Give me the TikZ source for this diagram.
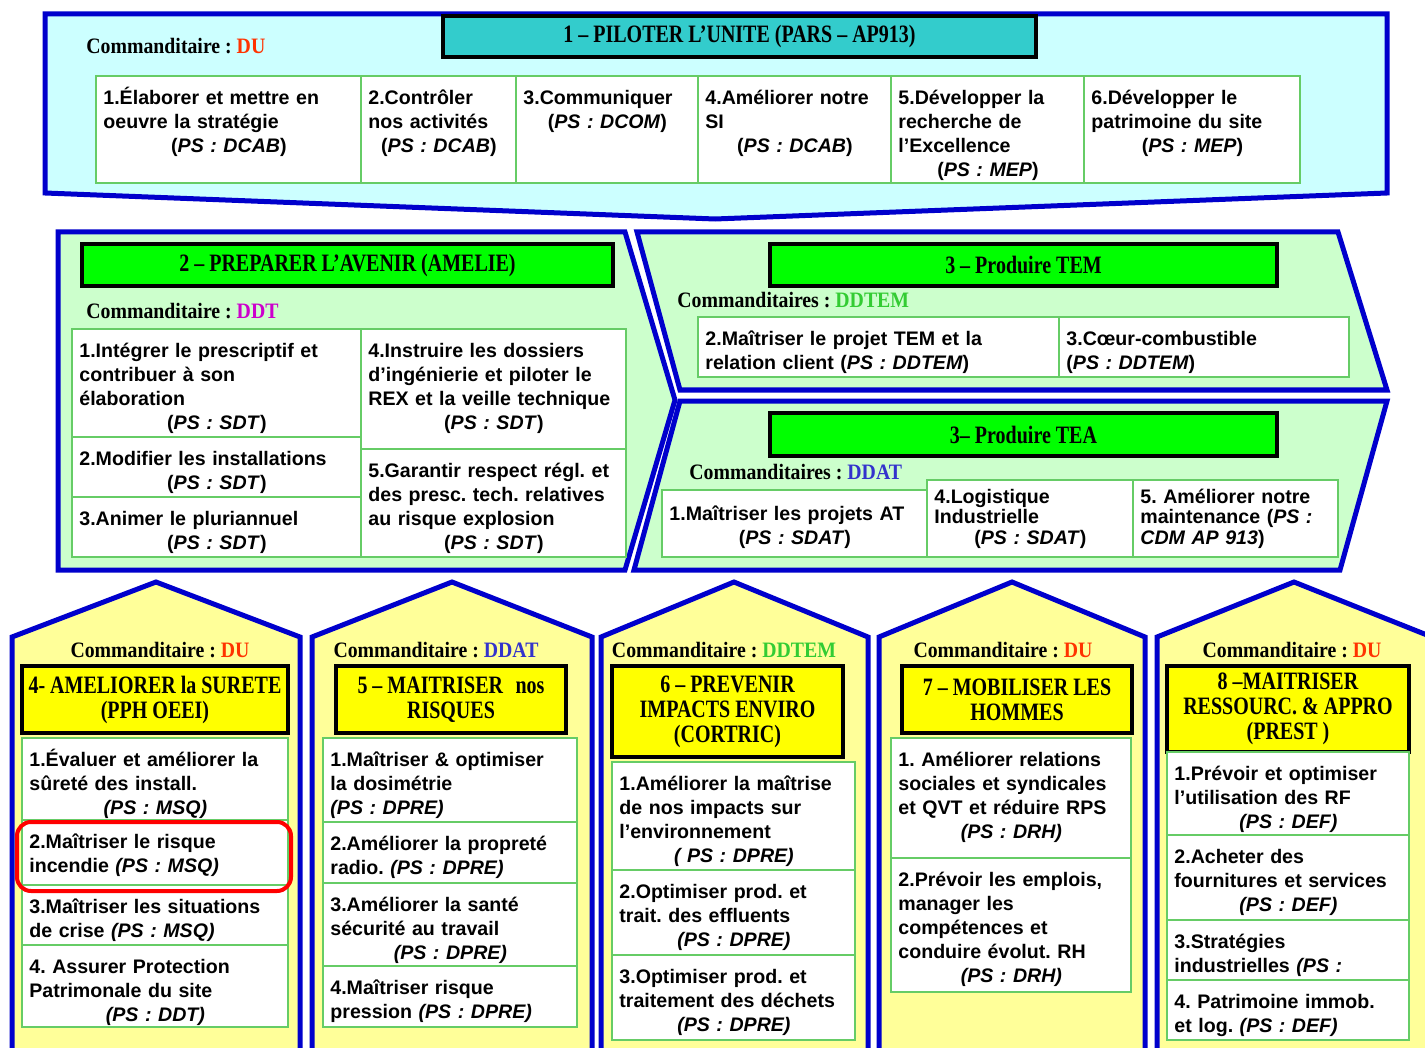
\documentclass[tikz,border=0pt]{standalone}
\usepackage{fontspec}
\setmainfont{Liberation Sans}
\newfontfamily\condserif{Liberation Serif}[FakeStretch=0.8]
\newfontfamily\sponserif{Liberation Serif}[FakeStretch=0.9]
\frenchspacing
\definecolor{bordblue}{RGB}{0,0,204}
\definecolor{skycyan}{RGB}{204,255,255}
\definecolor{mintgreen}{RGB}{204,255,204}
\definecolor{paleyellow}{RGB}{255,255,153}
\definecolor{cellgreen}{RGB}{102,204,102}
\definecolor{titlecyan}{RGB}{51,204,204}
\definecolor{titlegreen}{RGB}{0,255,0}
\definecolor{titleyellow}{RGB}{255,255,0}
\definecolor{duRed}{RGB}{255,51,0}
\definecolor{ddtMag}{RGB}{204,0,204}
\definecolor{ddtemGreen}{RGB}{51,204,51}
\definecolor{ddatBlue}{RGB}{51,51,204}
\newcommand\cellfont{\fontsize{9.8}{12}\selectfont\bfseries}
\newcommand\titlefont{\condserif\bfseries\fontsize{12.5}{12.5}\selectfont}
\newcommand\sponsorfont{\sponserif\bfseries\fontsize{11}{13}\selectfont}
\newcommand\ps[1]{\par{\centering(\textit{PS : #1})\par}}
\newcommand\psit[1]{\par{\centering\textit{(PS : #1)}\par}}
\newcommand\sponsor[3][Commanditaire]{#1 : \textcolor{#2}{#3}}
\tikzset{
  panel/.style={draw=bordblue, line width=2.5pt, line join=miter},
  titlebox/.style={draw=black, line width=1.6pt, font=\titlefont, align=center, inner sep=0pt},
  cellbox/.style={draw=cellgreen, line width=0.8pt, fill=white},
  celltext/.style={anchor=north west, align=left, inner xsep=3.5pt, inner ysep=5.6pt,
    font=\cellfont, execute at begin node={\parindent=0pt\strut}},
  compact/.style={font=\fontsize{9.8}{10.2}\selectfont\bfseries, inner ysep=4.3pt},
  sponsortext/.style={font=\sponsorfont, inner sep=0pt}
}
\newcommand\headbox[7]{%
  \pgfmathsetmacro\boxwd{(#3-#1)*0.5}\pgfmathsetmacro\boxht{(#4-#2)*0.5}%
  \node[titlebox, fill=#5, minimum width=\boxwd pt, minimum height=\boxht pt] (#6)
    at ({(#1+#3)/2},{(#2+#4)/2}) {#7};
}
\newcommand\taskcell[7][]{%
  \pgfmathsetmacro\cellwd{(#4-#2)*0.5-7}%
  \draw[cellbox] (#2,#3) rectangle (#4,#5);
  \node[celltext, text width=\cellwd pt, #1] (#6) at (#2,#3) {#7};
}
\begin{document}
\begin{tikzpicture}[x=0.5pt, y=-0.5pt]
\useasboundingbox (0,0) rectangle (1425,1048);
\clip (0,0) rectangle (1425,1048);
\fill[white] (0,0) rectangle (1425,1048);

\draw[panel, fill=skycyan] (45,14) -- (1387,14) -- (1387,193) -- (715,219) -- (45,193) -- cycle;
\headbox{443}{16}{1036}{57}{titlecyan}{pilot}{1 – PILOTER L’UNITE (PARS – AP913)}
\node[sponsortext, anchor=west] (pilotsp) at (86,46) {\sponsor{duRed}{DU}};
\taskcell{96}{76}{361}{183}{pil1}{1.Élaborer et mettre en\\oeuvre la stratégie\ps{DCAB}}
\taskcell{361}{76}{516}{183}{pil2}{2.Contrôler\\nos activités\ps{DCAB}}
\taskcell{516}{76}{698}{183}{pil3}{3.Communiquer\ps{DCOM}}
\taskcell{698}{76}{891}{183}{pil4}{4.Améliorer notre\\SI\ps{DCAB}}
\taskcell{891}{76}{1084}{183}{pil5}{5.Développer la\\recherche de\\l’Excellence\ps{MEP}}
\taskcell{1084}{76}{1300}{183}{pil6}{6.Développer le\\patrimoine du site\ps{MEP}}

\draw[panel, fill=mintgreen] (58,232) -- (625,232) -- (675,400) -- (625,570) -- (58,570) -- cycle;
\headbox{82}{244}{613}{286}{titlegreen}{avenir}{2 – PREPARER L’AVENIR (AMELIE)}
\node[sponsortext, anchor=west] (avenirsp) at (86,311) {\sponsor{ddtMag}{DDT}};
\taskcell{72}{329}{361}{437}{av1}{1.Intégrer le prescriptif et\\contribuer à son\\élaboration\ps{SDT}}
\taskcell{72}{437}{361}{497}{av2}{2.Modifier les installations\ps{SDT}}
\taskcell{72}{497}{361}{557}{av3}{3.Animer le pluriannuel\ps{SDT}}
\taskcell{361}{329}{626}{449}{av4}{4.Instruire les dossiers\\d’ingénierie et piloter le\\REX et la veille technique\ps{SDT}}
\taskcell{361}{449}{626}{557}{av5}{5.Garantir respect régl. et\\des presc. tech. relatives\\au risque explosion\ps{SDT}}

\draw[panel, fill=mintgreen] (637,232) -- (1338,232) -- (1387,390) -- (680,390) -- cycle;
\headbox{770}{244}{1277}{286}{titlegreen}{tem}{3 – Produire TEM}
\node[sponsortext, anchor=west] (temsp) at (677,300) {\sponsor[Commanditaires]{ddtemGreen}{DDTEM}};
\taskcell{698}{317}{1059}{377}{tem2}{2.Maîtriser le projet TEM et la\\relation client (\textit{PS : DDTEM})}
\taskcell{1059}{317}{1349}{377}{tem3}{3.Cœur-combustible\\(\textit{PS : DDTEM})}

\draw[panel, fill=mintgreen] (680,401) -- (1387,401) -- (1340,570) -- (634,570) -- cycle;
\headbox{770}{413}{1277}{456}{titlegreen}{tea}{3– Produire TEA}
\node[sponsortext, anchor=west] (teasp) at (689,472) {\sponsor[Commanditaires]{ddatBlue}{DDAT}};
\taskcell[inner ysep=6.6pt]{662}{490}{927}{557}{tea1}{1.Maîtriser les projets AT\ps{SDAT}}
\taskcell[compact]{927}{480}{1133}{557}{tea4}{4.Logistique\\Industrielle\ps{SDAT}}
\taskcell[compact]{1133}{480}{1338}{557}{tea5}{5. Améliorer notre\\maintenance (\textit{PS :}\\\textit{CDM AP 913})}

\foreach \lft/\pk/\rgt in {12/156/300, 312/452/592, 601/734/868, 879/1012/1145, 1157/1294/1432}
  \draw[panel, fill=paleyellow] (\lft,1070) -- (\lft,637) -- (\pk,582) -- (\rgt,637) -- (\rgt,1070) -- cycle;

\node[sponsortext] (surtsp) at (160,650) {\sponsor{duRed}{DU}};
\headbox{22}{666}{288}{733}{titleyellow}{surete}{4- AMELIORER la SURETE\\(PPH OEEI)}
\taskcell{22}{738}{288}{820}{sur1}{1.Évaluer et améliorer la\\sûreté des install.\psit{MSQ}}
\taskcell{22}{820}{288}{885}{sur2}{2.Maîtriser le risque\\incendie \textit{(PS : MSQ)}}
\taskcell{22}{885}{288}{945}{sur3}{3.Maîtriser les situations\\de crise \textit{(PS : MSQ)}}
\taskcell{22}{945}{288}{1027}{sur4}{4. Assurer Protection\\Patrimonale du site\psit{DDT}}
\draw[red, line width=2pt, rounded corners=7pt] (17,822) rectangle (291,891);

\node[sponsortext] (risqsp) at (436,650) {\sponsor{ddatBlue}{DDAT}};
\headbox{336}{666}{566}{733}{titleyellow}{risques}{5 – MAITRISER\enspace nos\\RISQUES}
\taskcell{323}{738}{577}{822}{ris1}{1.Maîtriser \& optimiser\\la dosimétrie\\\textit{(PS : DPRE)}}
\taskcell{323}{822}{577}{883}{ris2}{2.Améliorer la propreté\\radio. \textit{(PS : DPRE)}}
\taskcell{323}{883}{577}{966}{ris3}{3.Améliorer la santé\\sécurité au travail\psit{DPRE}}
\taskcell{323}{966}{577}{1027}{ris4}{4.Maîtriser risque\\pression \textit{(PS : DPRE)}}

\node[sponsortext] (envsp) at (724,650) {\sponsor{ddtemGreen}{DDTEM}};
\headbox{612}{666}{843}{757}{titleyellow}{enviro}{6 – PREVENIR\\IMPACTS ENVIRO\\(CORTRIC)}
\taskcell{612}{762}{855}{870}{env1}{1.Améliorer la maîtrise\\de nos impacts sur\\l’environnement\par{\centering\textit{( PS : DPRE)}\par}}
\taskcell{612}{870}{855}{955}{env2}{2.Optimiser prod. et\\trait. des effluents\psit{DPRE}}
\taskcell{612}{955}{855}{1040}{env3}{3.Optimiser prod. et\\traitement des déchets\psit{DPRE}}

\node[sponsortext] (homsp) at (1003,650) {\sponsor{duRed}{DU}};
\headbox{902}{666}{1132}{733}{titleyellow}{hommes}{7 – MOBILISER LES\\HOMMES}
\taskcell{891}{738}{1131}{858}{hom1}{1. Améliorer relations\\sociales et syndicales\\et QVT et réduire RPS\psit{DRH}}
\taskcell{891}{858}{1131}{992}{hom2}{2.Prévoir les emplois,\\manager les\\compétences et\\conduire évolut. RH\psit{DRH}}

\node[sponsortext] (ressp) at (1292,650) {\sponsor{duRed}{DU}};
\headbox{1167}{666}{1409}{752}{titleyellow}{ressources}{8 –MAITRISER\\RESSOURC. \& APPRO\\(PREST )}
\taskcell{1167}{752}{1409}{835}{res1}{1.Prévoir et optimiser\\l’utilisation des RF\psit{DEF}}
\taskcell{1167}{835}{1409}{920}{res2}{2.Acheter des\\fournitures et services\psit{DEF}}
\taskcell{1167}{920}{1409}{980}{res3}{3.Stratégies\\industrielles \textit{(PS :}}
\taskcell{1167}{980}{1409}{1040}{res4}{4. Patrimoine immob.\\et log. \textit{(PS : DEF)}}
\end{tikzpicture}
\end{document}
